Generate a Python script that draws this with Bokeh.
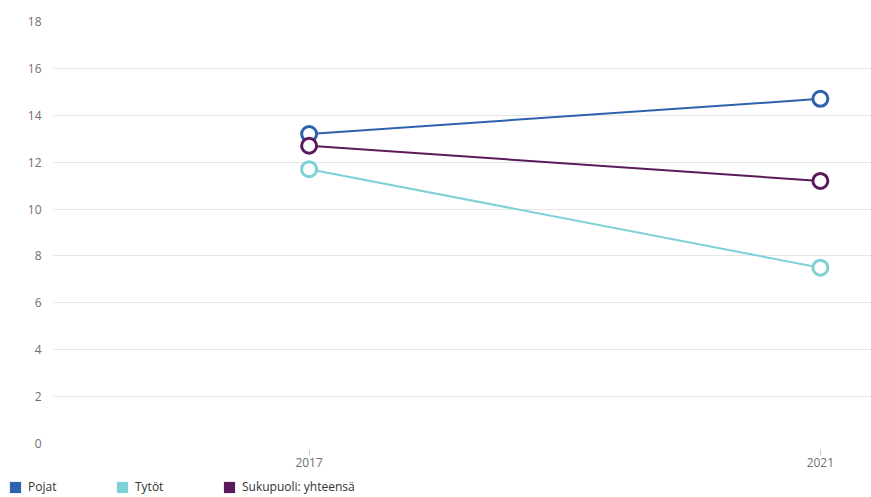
from bokeh.plotting import figure
from bokeh.models import Range1d, FixedTicker, Legend, LegendItem, ColumnDataSource
from bokeh.embed import file_html
from bokeh.resources import INLINE

years = [2017, 2021]
pojat = [13.2, 14.7]
tytot = [11.7, 7.5]
yhteensa = [12.7, 11.2]
series_names = ["Pojat", "Tytöt", "Sukupuoli: yhteensä"]
series_values = [pojat, tytot, yhteensa]
colors = ["#2f62ad", "#7fd1d6", "#5a1a5c"]
y_ticks = [0, 2, 4, 6, 8, 10, 12, 14, 16, 18]

p = figure(width=871, height=478, output_backend="svg", toolbar_location=None,
           x_range=Range1d(2015.0, 2021.4), y_range=Range1d(0, 18),
           min_border_left=53, min_border_right=0, min_border_top=21, min_border_bottom=35)
p.outline_line_color = None
p.background_fill_color = "white"

font = "Open Sans"
p.yaxis.ticker = FixedTicker(ticks=y_ticks)
p.yaxis.axis_line_color = None
p.yaxis.major_tick_line_color = None
p.yaxis.minor_tick_line_color = None
p.yaxis.major_label_text_font = font
p.yaxis.major_label_text_font_size = "12px"
p.yaxis.major_label_text_color = "#707070"
p.yaxis.major_label_standoff = 6
p.xaxis.ticker = FixedTicker(ticks=years)
p.xaxis.axis_line_color = None
p.xaxis.major_tick_line_color = "#cccccc"
p.xaxis.major_tick_in = -6
p.xaxis.major_tick_out = 12
p.xaxis.minor_tick_line_color = None
p.xaxis.major_label_text_font = font
p.xaxis.major_label_text_font_size = "12px"
p.xaxis.major_label_text_color = "#707070"
p.xaxis.major_label_standoff = 2

p.xgrid.grid_line_color = None
p.ygrid.grid_line_color = "#e6e6e6"
p.ygrid.grid_line_width = 1

lg = figure(width=871, height=19, output_backend="svg", toolbar_location=None,
            x_range=Range1d(0, 1), y_range=Range1d(0, 1),
            x_axis_location=None, y_axis_location=None, min_border=0,
            min_border_left=0, min_border_right=0, min_border_top=0, min_border_bottom=0)
lg.outline_line_color = None
lg.grid.visible = False

items = []
for name, vals, col in zip(series_names, series_values, colors):
    src = ColumnDataSource(dict(x=years, y=vals))
    p.line("x", "y", source=src, line_color=col, line_width=2)
    p.scatter("x", "y", source=src, size=15, marker="circle", fill_color="white",
              line_color=col, line_width=3)
    sw = lg.rect(x=[float("nan")], y=[float("nan")], width=1, height=1,
                 fill_color=col, line_color=None)
    items.append(LegendItem(label=name, renderers=[sw]))

legend = Legend(items=items, orientation="horizontal", location=(8, 2),
                glyph_width=14, glyph_height=14, label_standoff=6, label_width=80,
                spacing=7, padding=0, margin=0, border_line_color=None,
                background_fill_alpha=0, label_text_font=font,
                label_text_font_size="12px", label_text_color="#333333",
                label_height=14)
lg.add_layout(legend, "center")

open("out.html", "w").write(file_html([p, lg], INLINE))
